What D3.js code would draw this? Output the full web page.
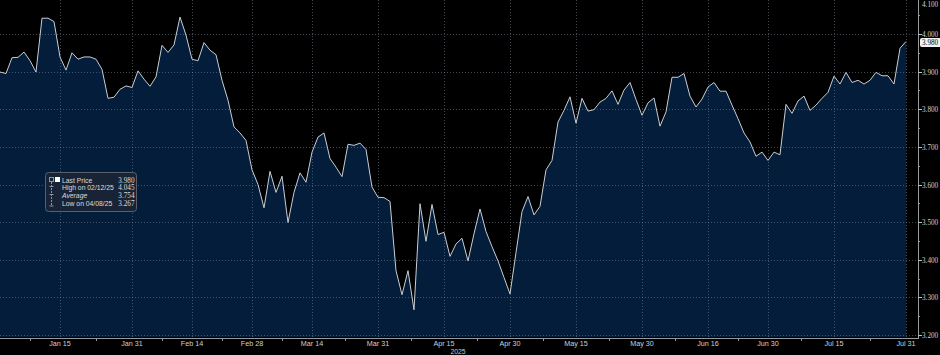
<!DOCTYPE html>
<html>
<head>
<meta charset="utf-8">
<script src="https://cdn.jsdelivr.net/npm/d3@7"></script>
<style>
  html, body { margin: 0; padding: 0; background: #000; }
  svg { display: block; }
</style>
</head>
<body>
<svg id="chart" width="940" height="355"></svg>
<script>
// ---- data (weekday closes, 2025-01-01 .. 2025-07-31) ----
const values = [
  3.899, 3.895, 3.937, 3.938, 3.952, 3.929, 3.899, 4.042, 4.042, 4.033,
  3.939, 3.904, 3.950, 3.933, 3.939, 3.939, 3.933, 3.906, 3.829, 3.832,
  3.853, 3.862, 3.858, 3.902, 3.880, 3.861, 3.886, 3.970, 3.951, 3.971,
  4.045, 3.997, 3.933, 3.929, 3.977, 3.957, 3.945, 3.877, 3.824, 3.753,
  3.737, 3.717, 3.639, 3.600, 3.538, 3.635, 3.579, 3.622, 3.499, 3.579,
  3.631, 3.606, 3.686, 3.726, 3.737, 3.669, 3.646, 3.621, 3.707, 3.704,
  3.710, 3.693, 3.593, 3.566, 3.565, 3.555, 3.371, 3.307, 3.371, 3.267,
  3.549, 3.449, 3.547, 3.467, 3.473, 3.409, 3.442, 3.457, 3.397, 3.469,
  3.535, 3.475, 3.435, 3.397, 3.353, 3.309, 3.419, 3.528, 3.568, 3.519,
  3.542, 3.639, 3.664, 3.766, 3.797, 3.833, 3.763, 3.829, 3.795, 3.799,
  3.819, 3.829, 3.849, 3.813, 3.851, 3.871, 3.826, 3.784, 3.817, 3.830,
  3.755, 3.793, 3.885, 3.885, 3.895, 3.835, 3.806, 3.827, 3.859, 3.871,
  3.848, 3.848, 3.811, 3.775, 3.737, 3.713, 3.675, 3.686, 3.664, 3.686,
  3.679, 3.813, 3.789, 3.822, 3.835, 3.797, 3.811, 3.829, 3.845, 3.888,
  3.867, 3.898, 3.871, 3.877, 3.867, 3.877, 3.898, 3.889, 3.889, 3.867,
  3.962, 3.980
];
const xTickLabels = ["Jan 15","Jan 31","Feb 14","Feb 28","Mar 14","Mar 31","Apr 15",
                     "Apr 30","May 15","May 30","Jun 16","Jun 30","Jul 15","Jul 31"];
const xTickDates  = ["2025-01-15","2025-01-31","2025-02-14","2025-02-28","2025-03-14","2025-03-31","2025-04-15",
                     "2025-04-30","2025-05-15","2025-05-30","2025-06-16","2025-06-30","2025-07-15","2025-07-31"];
const yTicks = [3.2, 3.3, 3.4, 3.5, 3.6, 3.7, 3.8, 3.9, 4.0, 4.1];
const yearLabel = "2025";
const legendLabels = ["Last Price", "High on 02/12/25", "Average", "Low on 04/08/25"];
const legendValues = ["3.980", "4.045", "3.754", "3.267"];
const lastPrice = 3.980;

// ---- weekday calendar ----
const parse = d3.utcParse("%Y-%m-%d");
const dates = d3.utcDay.range(parse("2025-01-01"), parse("2025-08-01"))
  .filter(d => d.getUTCDay() !== 0 && d.getUTCDay() !== 6);
const fmt = d3.utcFormat("%Y-%m-%d");
const idxOf = new Map(dates.map((d, i) => [fmt(d), i]));
const data = values.map((v, i) => ({ i, v }));

// ---- layout ----
const W = 940, H = 355;
const plotRight = 918, plotBottom = 338;
const svg = d3.select("#chart");

const x = d3.scaleLinear().domain([0, dates.length - 1]).range([0, 906]);
const y = d3.scaleLinear().domain([3.2, 4.0]).range([335, 34]);

svg.append("rect").attr("width", W).attr("height", H).attr("fill", "#000");

// area fill
const area = d3.area().x(d => x(d.i)).y0(plotBottom - 1).y1(d => y(d.v));
svg.append("path").datum(data).attr("d", area).attr("fill", "#031d3b");

// grid
const grid = svg.append("g").attr("stroke", "#8a9cb0").attr("stroke-opacity", 0.45)
  .attr("stroke-width", 1).attr("stroke-dasharray", "1,2").attr("fill", "none");
yTicks.forEach(t => {
  const yy = Math.round(y(t)) + 0.5;
  grid.append("line").attr("x1", 0).attr("x2", plotRight).attr("y1", yy).attr("y2", yy);
});
const xTickIdx = xTickDates.map(d => idxOf.get(d));
xTickIdx.forEach(i => {
  const xx = Math.round(x(i)) + 0.5;
  grid.append("line").attr("x1", xx).attr("x2", xx).attr("y1", 0).attr("y2", plotBottom);
});

// price line
const line = d3.line().x(d => x(d.i)).y(d => y(d.v));
svg.append("path").datum(data).attr("d", line).attr("fill", "none")
  .attr("stroke", "#c9ced4").attr("stroke-width", 1).attr("stroke-linejoin", "round");

// x axis
svg.append("line").attr("x1", 0).attr("x2", plotRight).attr("y1", plotBottom + 0.5).attr("y2", plotBottom + 0.5)
  .attr("stroke", "#9a9a9a").attr("stroke-width", 1);
const minorIdx = [xTickIdx[0] / 2].concat(xTickIdx.slice(1).map((v, k) => (v + xTickIdx[k]) / 2));
minorIdx.forEach(i => {
  const xx = Math.round(x(i)) + 0.5;
  svg.append("line").attr("x1", xx).attr("x2", xx).attr("y1", plotBottom).attr("y2", plotBottom + 3)
    .attr("stroke", "#9a9a9a");
});
xTickIdx.forEach((i, k) => {
  svg.append("text").attr("x", x(i)).attr("y", 346).attr("text-anchor", "middle")
    .attr("font-family", "Liberation Sans, Arial, sans-serif").attr("font-size", 7.2)
    .attr("fill", "#d0d0d0").text(xTickLabels[k]);
});
svg.append("text").attr("x", x(idxOf.get("2025-04-15")) + 14).attr("y", 353.5).attr("text-anchor", "middle")
  .attr("font-family", "Liberation Sans, Arial, sans-serif").attr("font-size", 6.8)
  .attr("fill", "#c8c8c8").text(yearLabel);

// y axis
svg.append("line").attr("x1", plotRight + 0.5).attr("x2", plotRight + 0.5).attr("y1", 0).attr("y2", plotBottom + 1)
  .attr("stroke", "#9a9a9a");
yTicks.forEach(t => {
  const yy = Math.round(y(t)) + 0.5;
  svg.append("line").attr("x1", plotRight).attr("x2", plotRight + 4).attr("y1", yy).attr("y2", yy)
    .attr("stroke", "#c0c0c0");
  svg.append("text").attr("x", 922).attr("y", t > 4.05 ? 6.5 : yy + 2.4)
    .attr("font-family", "Liberation Serif, Times New Roman, serif").attr("font-size", 7.2)
    .attr("fill", "#d0d0d0").text(d3.format(".3f")(t));
  const ym = Math.round(y(t - 0.05)) + 0.5;
  if (t > 3.2) svg.append("line").attr("x1", plotRight).attr("x2", plotRight + 2).attr("y1", ym).attr("y2", ym)
    .attr("stroke", "#9a9a9a");
});

// last price tag
const ly = y(lastPrice) + 0.5;
svg.append("rect").attr("x", 920).attr("y", ly - 4).attr("width", 22).attr("height", 9).attr("rx", 2)
  .attr("fill", "#f2f2f2");
svg.append("text").attr("x", 922).attr("y", ly + 2.8)
  .attr("font-family", "Liberation Serif, Times New Roman, serif").attr("font-size", 7.2)
  .attr("fill", "#000").text(d3.format(".3f")(lastPrice));

// legend
const lg = svg.append("g");
lg.append("rect").attr("x", 45.5).attr("y", 172.5).attr("width", 91).attr("height", 39).attr("rx", 3)
  .attr("fill", "#1b2636").attr("fill-opacity", 0.9).attr("stroke", "#56606c");
lg.append("rect").attr("x", 49.5).attr("y", 177.5).attr("width", 4).attr("height", 4)
  .attr("fill", "none").attr("stroke", "#8a96a4");
lg.append("rect").attr("x", 55).attr("y", 177).attr("width", 5).attr("height", 5).attr("fill", "#ffffff");
lg.append("line").attr("x1", 51.5).attr("x2", 51.5).attr("y1", 182).attr("y2", 206)
  .attr("stroke", "#8a96a4").attr("stroke-dasharray", "2,1");
[[186.5], [194.5], [206]].forEach(([yy]) => {
  lg.append("line").attr("x1", 49.5).attr("x2", 53.5).attr("y1", yy).attr("y2", yy).attr("stroke", "#8a96a4");
});
const rowY = [182.5, 190, 197.5, 205.5];
legendLabels.forEach((lab, k) => {
  lg.append("text").attr("x", 62).attr("y", rowY[k])
    .attr("font-family", "Liberation Sans, Arial, sans-serif").attr("font-size", 6.8)
    .attr("font-style", k === 2 ? "italic" : "normal")
    .attr("fill", "#dcdcdc").text(lab);
  lg.append("text").attr("x", 134.5).attr("y", rowY[k]).attr("text-anchor", "end")
    .attr("font-family", "Liberation Serif, Times New Roman, serif").attr("font-size", 7.2)
    .attr("fill", "#dcdcdc").text(legendValues[k]);
});
</script>
</body>
</html>
